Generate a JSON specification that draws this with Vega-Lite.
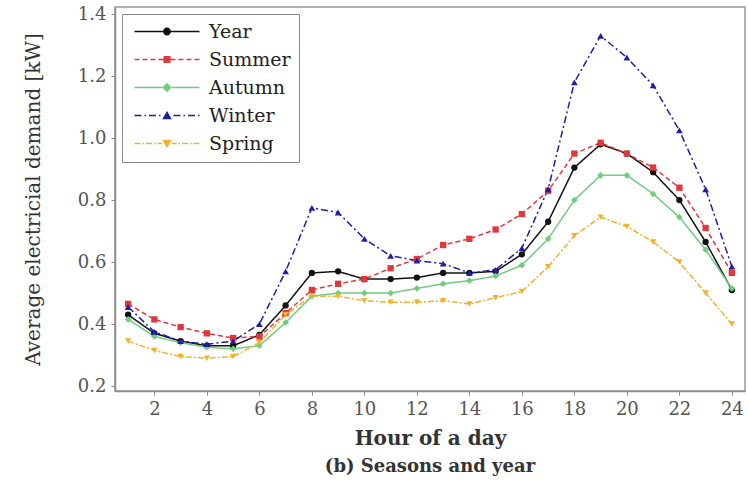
{
  "$schema": "https://vega.github.io/schema/vega-lite/v6.json",
  "autosize": "none",
  "width": 630,
  "height": 384,
  "padding": {"left": 115, "top": 7, "right": 3, "bottom": 102},
  "background": "white",
  "config": {
    "font": "DejaVu Serif",
    "view": {"stroke": "#9a9a9a", "strokeWidth": 1.5},
    "axis": {
      "domainColor": "#8a8a8a",
      "domainWidth": 1.5,
      "tickColor": "#8a8a8a",
      "tickSize": 4,
      "grid": false,
      "labelFont": "DejaVu Serif",
      "labelFontSize": 18,
      "labelColor": "#555555",
      "titleFont": "DejaVu Serif",
      "titleColor": "#333333"
    }
  },
  "title": {
    "text": "(b) Seasons and year",
    "orient": "bottom",
    "font": "DejaVu Serif",
    "fontSize": 18,
    "fontWeight": "bold",
    "color": "#333333",
    "offset": 10
  },
  "data": {
    "values": [
      {"hour": 1, "Year": 0.43, "Summer": 0.465, "Autumn": 0.415, "Winter": 0.455, "Spring": 0.345},
      {"hour": 2, "Year": 0.37, "Summer": 0.415, "Autumn": 0.36, "Winter": 0.375, "Spring": 0.315},
      {"hour": 3, "Year": 0.345, "Summer": 0.39, "Autumn": 0.34, "Winter": 0.345, "Spring": 0.295},
      {"hour": 4, "Year": 0.33, "Summer": 0.37, "Autumn": 0.325, "Winter": 0.335, "Spring": 0.29},
      {"hour": 5, "Year": 0.33, "Summer": 0.355, "Autumn": 0.32, "Winter": 0.345, "Spring": 0.295},
      {"hour": 6, "Year": 0.365, "Summer": 0.36, "Autumn": 0.33, "Winter": 0.4, "Spring": 0.34},
      {"hour": 7, "Year": 0.46, "Summer": 0.435, "Autumn": 0.405, "Winter": 0.57, "Spring": 0.43},
      {"hour": 8, "Year": 0.565, "Summer": 0.51, "Autumn": 0.49, "Winter": 0.775, "Spring": 0.49},
      {"hour": 9, "Year": 0.57, "Summer": 0.53, "Autumn": 0.5, "Winter": 0.76, "Spring": 0.49},
      {"hour": 10, "Year": 0.545, "Summer": 0.545, "Autumn": 0.5, "Winter": 0.675, "Spring": 0.475},
      {"hour": 11, "Year": 0.545, "Summer": 0.58, "Autumn": 0.5, "Winter": 0.62, "Spring": 0.47},
      {"hour": 12, "Year": 0.55, "Summer": 0.61, "Autumn": 0.515, "Winter": 0.605, "Spring": 0.47},
      {"hour": 13, "Year": 0.565, "Summer": 0.655, "Autumn": 0.53, "Winter": 0.595, "Spring": 0.475},
      {"hour": 14, "Year": 0.565, "Summer": 0.675, "Autumn": 0.54, "Winter": 0.565, "Spring": 0.465},
      {"hour": 15, "Year": 0.57, "Summer": 0.705, "Autumn": 0.555, "Winter": 0.575, "Spring": 0.485},
      {"hour": 16, "Year": 0.625, "Summer": 0.755, "Autumn": 0.59, "Winter": 0.645, "Spring": 0.505},
      {"hour": 17, "Year": 0.73, "Summer": 0.83, "Autumn": 0.675, "Winter": 0.835, "Spring": 0.585},
      {"hour": 18, "Year": 0.905, "Summer": 0.95, "Autumn": 0.8, "Winter": 1.18, "Spring": 0.685},
      {"hour": 19, "Year": 0.98, "Summer": 0.985, "Autumn": 0.88, "Winter": 1.33, "Spring": 0.745},
      {"hour": 20, "Year": 0.95, "Summer": 0.95, "Autumn": 0.88, "Winter": 1.26, "Spring": 0.715},
      {"hour": 21, "Year": 0.89, "Summer": 0.905, "Autumn": 0.82, "Winter": 1.17, "Spring": 0.665},
      {"hour": 22, "Year": 0.8, "Summer": 0.84, "Autumn": 0.745, "Winter": 1.025, "Spring": 0.6},
      {"hour": 23, "Year": 0.665, "Summer": 0.71, "Autumn": 0.64, "Winter": 0.835, "Spring": 0.5},
      {"hour": 24, "Year": 0.51, "Summer": 0.565, "Autumn": 0.515, "Winter": 0.585, "Spring": 0.4}
    ]
  },
  "transform": [
    {"fold": ["Year", "Summer", "Autumn", "Winter", "Spring"], "as": ["series", "demand"]}
  ],
  "encoding": {
    "x": {
      "field": "hour",
      "type": "quantitative",
      "scale": {"domain": [0.5, 24.5], "nice": false, "zero": false},
      "axis": {
        "values": [2, 4, 6, 8, 10, 12, 14, 16, 18, 20, 22, 24],
        "title": "Hour of a day",
        "titleFontSize": 20,
        "titleFontWeight": "bold",
        "labelPadding": 5,
        "titlePadding": 10
      }
    },
    "y": {
      "field": "demand",
      "type": "quantitative",
      "scale": {"domain": [0.184, 1.423], "nice": false, "zero": false},
      "axis": {
        "values": [0.2, 0.4, 0.6, 0.8, 1.0, 1.2, 1.4],
        "format": ".1f",
        "title": "Average electricial demand [kW]",
        "titleFontSize": 20,
        "titleFontWeight": "normal",
        "labelPadding": 5,
        "titlePadding": 34
      }
    },
    "color": {
      "field": "series",
      "type": "nominal",
      "scale": {
        "domain": ["Year", "Summer", "Autumn", "Winter", "Spring"],
        "range": ["#111111", "#e0383c", "#72cc80", "#1e1ea6", "#f0b22e"]
      },
      "legend": {
        "title": null,
        "orient": "top-left",
        "offset": 7,
        "strokeColor": "#8a8a8a",
        "fillColor": "white",
        "padding": 8,
        "labelFont": "DejaVu Serif",
        "labelFontSize": 19,
        "labelColor": "#222222",
        "labelOffset": 60,
        "symbolSize": 100,
        "symbolStrokeWidth": 0,
        "symbolOpacity": 1,
        "rowPadding": 8
      }
    }
  },
  "layer": [
    {
      "description": "Legend keys: line sample with its marker, drawn as filled shapes",
      "mark": {"type": "point", "filled": true, "size": 0, "opacity": 1},
      "encoding": {
        "shape": {
          "field": "series",
          "type": "nominal",
          "scale": {
            "domain": ["Year", "Summer", "Autumn", "Winter", "Spring"],
            "range": [
              "M-1,-0.14H4.7V0.14H-1ZM6.3,-0.14H12V0.14H6.3ZM4.7,0A0.8,0.8 0 1,0 6.3,0A0.8,0.8 0 1,0 4.7,0Z",
              "M-1,-0.14H0V0.14H-1ZM0.6,-0.14H1.6V0.14H0.6ZM2.2,-0.14H3.2V0.14H2.2ZM3.8,-0.14H4.8V0.14H3.8ZM6.2,-0.14H7.2V0.14H6.2ZM7.8,-0.14H8.8V0.14H7.8ZM9.4,-0.14H10.4V0.14H9.4ZM11,-0.14H12V0.14H11ZM4.8,-0.7H6.2V0.7H4.8Z",
              "M-1,-0.14H4.55V0.14H-1ZM6.45,-0.14H12V0.14H6.45ZM5.5,-0.95L6.45,0L5.5,0.95L4.55,0Z",
              "M-1,-0.14H0.4V0.14H-1ZM1,-0.14H1.3V0.14H1ZM1.9,-0.14H3.3V0.14H1.9ZM3.9,-0.14H4.2V0.14H3.9ZM6.8,-0.14H8.2V0.14H6.8ZM8.8,-0.14H9.1V0.14H8.8ZM9.7,-0.14H11.1V0.14H9.7ZM11.7,-0.14H12V0.14H11.7ZM5.5,-0.9L6.45,0.75H4.55Z",
              "M-1,-0.14H0.2V0.14H-1ZM0.6,-0.14H0.9V0.14H0.6ZM1.3,-0.14H2.5V0.14H1.3ZM2.9,-0.14H3.2V0.14H2.9ZM3.6,-0.14H4.55V0.14H3.6ZM6.45,-0.14H7.4V0.14H6.45ZM7.8,-0.14H8.1V0.14H7.8ZM8.5,-0.14H9.7V0.14H8.5ZM10.1,-0.14H10.4V0.14H10.1ZM10.8,-0.14H12V0.14H10.8ZM4.55,-0.75H6.45L5.5,0.9Z"
            ]
          }
        }
      }
    },
    {
      "mark": {"type": "line", "strokeWidth": 1.5},
      "encoding": {
        "strokeDash": {
          "field": "series",
          "type": "nominal",
          "scale": {
            "domain": ["Year", "Summer", "Autumn", "Winter", "Spring"],
            "range": [[1, 0], [5, 3], [1, 0], [7, 3, 2, 3], [6, 2, 2, 2]]
          },
          "legend": null
        }
      }
    },
    {
      "transform": [{"filter": "datum.series === 'Year'"}],
      "mark": {"type": "point", "filled": true, "shape": "circle", "size": 40, "opacity": 1}
    },
    {
      "transform": [{"filter": "datum.series === 'Summer'"}],
      "mark": {"type": "point", "filled": true, "shape": "square", "size": 40, "opacity": 1}
    },
    {
      "transform": [{"filter": "datum.series === 'Autumn'"}],
      "mark": {"type": "point", "filled": true, "shape": "diamond", "size": 45, "opacity": 1}
    },
    {
      "transform": [{"filter": "datum.series === 'Winter'"}],
      "mark": {"type": "point", "filled": true, "shape": "triangle-up", "size": 45, "opacity": 1}
    },
    {
      "transform": [{"filter": "datum.series === 'Spring'"}],
      "mark": {"type": "point", "filled": true, "shape": "triangle-down", "size": 40, "opacity": 1}
    }
  ]
}
